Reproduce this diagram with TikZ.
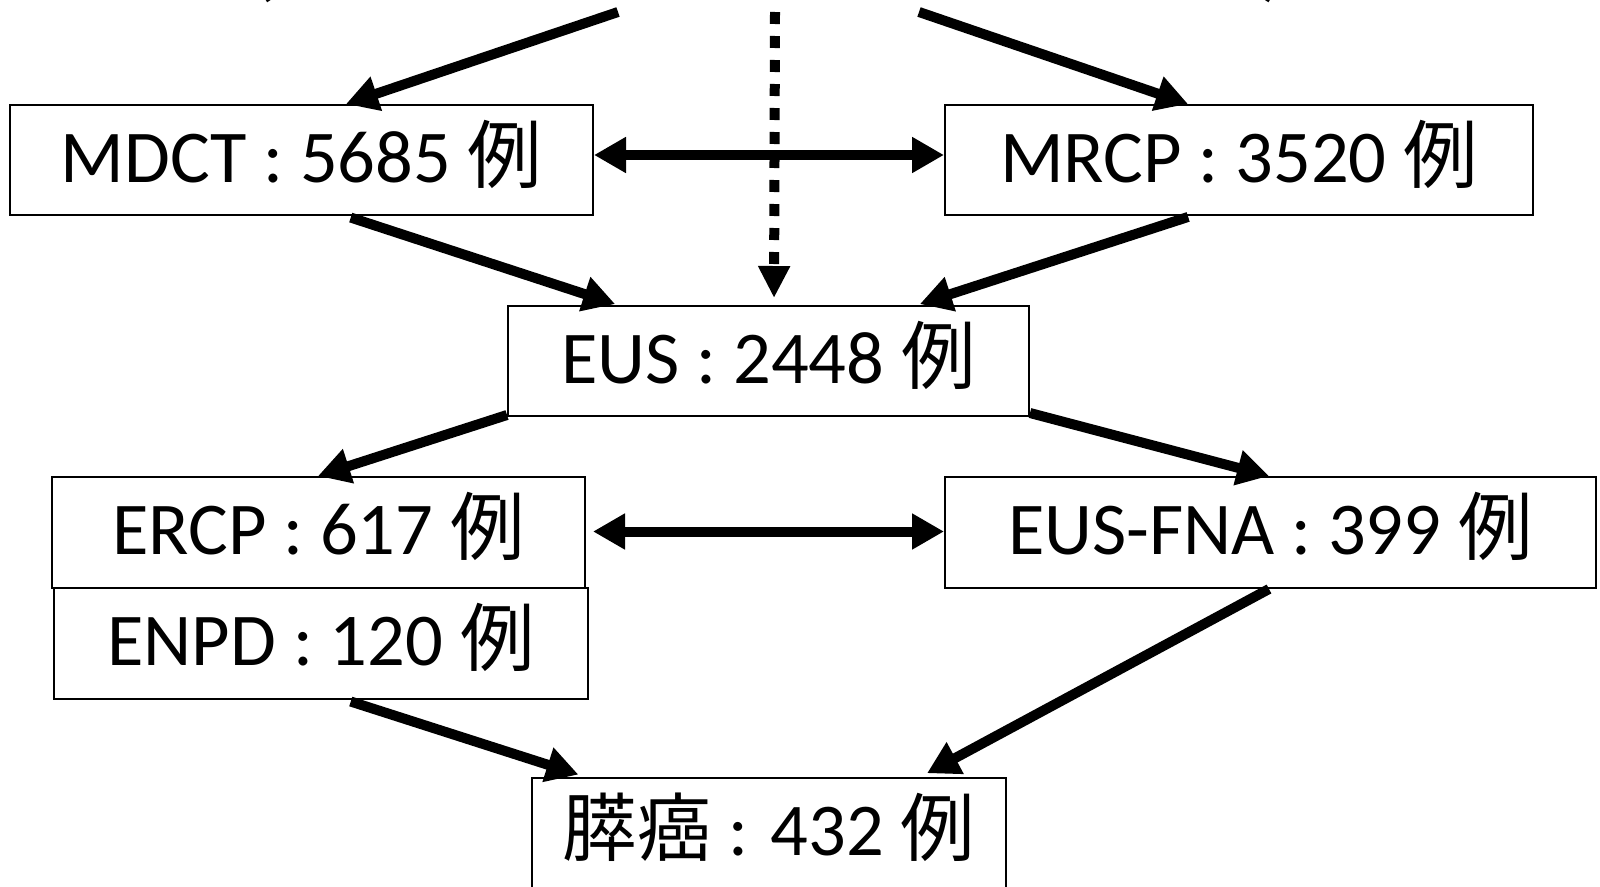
\documentclass[tikz,border=0pt]{standalone}
\usepackage{fontspec}
\setmainfont{Carlito}
\newfontfamily\jpfont{Noto Sans CJK JP}
\usetikzlibrary{arrows.meta}
\newcommand{\rei}{{\jpfont 例}}
\tikzset{
  box/.style={draw, line width=2pt, inner sep=0pt, text height=60pt, text depth=16pt,
              font=\fontsize{74.5}{80}\selectfont},
  flow/.style={line width=10pt, -{Triangle[length=32pt,width=34pt]}},
  both/.style={line width=10pt, {Triangle[length=32pt,width=34pt]}-{Triangle[length=32pt,width=34pt]}},
  dots/.style={line width=10pt, dash pattern=on 12pt off 12pt, -{Triangle[length=32pt,width=30pt]}},
  paren/.style={font=\fontsize{74.5}{80}\selectfont, anchor=base}
}
\begin{document}
\begin{tikzpicture}[x=1pt, y=-1pt]
\useasboundingbox (0,0) rectangle (1600,886);
\clip (0,0) rectangle (1600,886);
\fill[white] (0,0) rectangle (1600,886);

% heading brackets running off the top edge
\node[paren] (lp) at (264,-8) {(};
\node[paren] (rp) at (1273,-8) {)};

% examination boxes
\node[box, minimum width=583pt, minimum height=110pt] (mdct) at (301.5,160) {MDCT : 5685 \rei};
\node[box, minimum width=588pt, minimum height=110pt] (mrcp) at (1239,160) {MRCP : 3520 \rei};
\node[box, minimum width=521pt, minimum height=110pt] (eus)  at (768.5,361) {EUS : 2448 \rei};
\node[box, minimum width=533pt, minimum height=111pt] (ercp) at (318.5,532.5) {ERCP : 617 \rei};
\node[box, minimum width=534pt, minimum height=111pt] (enpd) at (321,643.5) {ENPD : 120 \rei};
\node[box, minimum width=651pt, minimum height=111pt] (fna)  at (1270.5,532.5) {EUS-FNA : 399 \rei};
\node[box, minimum width=474pt, minimum height=110pt] (pc)   at (769,833) {{\jpfont 膵癌} : 432 \rei};

% free ends of the arrows entering from the top
\coordinate (tl) at (618,12);
\coordinate (tr) at (919,12);
\coordinate (tm) at (775,12);

% connectors
\draw[flow] (tl) -- ([xshift=337pt]mdct.north west);
\draw[flow] (tr) -- ([xshift=244pt]mrcp.north west);
\draw[dots, shorten >=7pt] (tm) -- ([xshift=267pt]eus.north west);
\draw[both] ([yshift=5pt]mdct.east) -- ([yshift=5pt]mrcp.west);
\draw[flow, shorten <=5pt, shorten >=3pt] ([xshift=337pt]mdct.south west) -- ([xshift=111pt]eus.north west);
\draw[flow, shorten <=3pt, shorten >=3pt] ([xshift=247pt]mrcp.south west) -- ([xshift=410pt]eus.north west);
\draw[flow] ([yshift=2pt]eus.south west) -- ([xshift=267pt]ercp.north west);
\draw[flow] ([yshift=4pt]eus.south east) -- ([xshift=325pt]fna.north west);
\draw[both, shorten <=7pt] ([yshift=1pt]ercp.east) -- ([yshift=1pt]fna.west);
\draw[flow, shorten <=5pt, shorten >=8pt] ([xshift=293pt]enpd.south west) -- ([xshift=55pt]pc.north west);
\draw[flow, shorten >=8pt] ([xshift=325pt]fna.south west) -- ([xshift=389pt]pc.north west);
\end{tikzpicture}
\end{document}
